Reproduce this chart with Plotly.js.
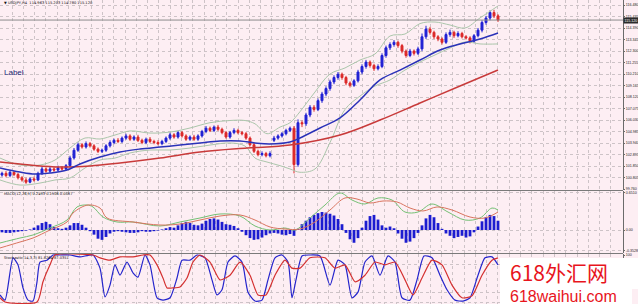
<!DOCTYPE html>
<html><head><meta charset="utf-8">
<script src="https://cdn.plot.ly/plotly-3.0.1.min.js"></script>
<style>html,body{margin:0;padding:0;background:#fdeef3;} #chart{width:638px;height:304px;}</style>
</head><body><div id="chart"></div>
<script>
// ---- price data (USDJPY H4), one value per bar ----
const openP = [101.05,101.20,101.00,101.30,101.10,100.80,100.60,100.40,100.70,100.60,
101.20,101.60,101.40,101.60,101.50,101.70,101.60,101.90,102.60,103.30,
103.80,103.60,103.90,103.70,103.40,103.20,103.30,103.70,104.00,104.20,
104.10,104.40,104.60,104.30,104.50,104.20,104.00,104.30,104.10,104.00,
103.90,104.10,104.40,104.70,104.50,104.90,104.60,104.30,104.50,104.30,
104.60,105.00,105.30,105.10,105.40,105.20,104.90,104.50,104.90,105.10,
104.90,104.80,104.40,103.80,103.20,102.90,103.00,102.80,104.20,104.40,
104.60,104.80,105.10,105.30,102.00,105.80,105.70,106.50,107.20,107.00,
107.80,108.40,108.90,109.50,109.90,110.20,109.90,109.40,109.20,109.60,
110.40,110.90,111.30,111.00,110.70,110.90,111.90,112.60,112.90,113.10,
112.80,112.30,111.90,112.30,112.10,112.50,113.60,114.30,114.00,113.60,
113.40,113.10,113.80,114.00,113.70,113.90,113.60,113.50,113.20,113.70,
114.20,114.90,115.30,115.80,115.50];
const highP = [101.35,101.40,101.45,101.40,101.25,100.95,100.80,100.85,100.90,101.35,
101.80,101.75,101.80,101.75,101.90,101.85,102.05,102.80,103.50,104.00,
103.95,104.10,104.05,103.85,103.55,103.45,103.85,104.20,104.35,104.40,
104.55,104.80,104.75,104.65,104.70,104.35,104.45,104.50,104.25,104.20,
104.25,104.55,104.90,104.85,105.05,105.05,104.75,104.65,104.70,104.75,
105.15,105.50,105.45,105.55,105.60,105.35,105.05,105.05,105.30,105.25,
105.05,104.95,104.55,103.95,103.35,103.20,103.15,103.20,104.60,104.75,
104.95,105.25,105.45,105.50,106.10,106.00,106.70,107.40,107.40,108.00,
108.60,109.10,109.70,110.10,110.40,110.35,110.05,109.55,109.75,110.60,
111.10,111.50,111.45,111.15,111.10,112.10,112.80,113.10,113.30,113.25,
112.95,112.45,112.50,112.45,112.70,113.90,114.60,114.50,114.15,113.75,
113.55,114.00,114.25,114.15,114.10,114.05,113.75,113.65,113.85,114.40,
115.10,115.50,116.00,116.05,115.65];
const lowP = [100.90,100.85,100.85,100.95,100.65,100.45,100.25,100.30,100.45,100.50,
101.05,101.25,101.25,101.35,101.35,101.45,101.45,101.75,102.45,103.15,
103.45,103.45,103.55,103.25,103.05,103.05,103.15,103.55,103.85,103.95,
103.95,104.25,104.15,104.15,104.05,103.85,103.85,103.95,103.85,103.75,
103.75,103.95,104.25,104.35,104.35,104.45,104.15,104.15,104.15,104.15,
104.45,104.85,104.95,104.95,105.05,104.75,104.35,104.35,104.75,104.75,
104.65,104.25,103.65,103.05,102.75,102.75,102.65,102.65,104.05,104.25,
104.45,104.65,104.95,101.20,101.80,105.40,105.50,106.30,106.80,106.85,
107.60,108.20,108.70,109.30,109.70,109.70,109.20,109.00,109.05,109.45,
110.20,110.70,110.80,110.50,110.55,110.75,111.70,112.40,112.70,112.60,
112.10,111.70,111.75,111.90,111.95,112.30,113.40,113.80,113.40,113.20,
112.90,112.95,113.60,113.50,113.55,113.45,113.35,113.00,113.05,113.55,
114.00,114.70,115.10,115.30,114.95];
const closeP = [101.20,101.00,101.30,101.10,100.80,100.60,100.40,100.70,100.60,101.20,
101.60,101.40,101.60,101.50,101.70,101.60,101.90,102.60,103.30,103.80,
103.60,103.90,103.70,103.40,103.20,103.30,103.70,104.00,104.20,104.10,
104.40,104.60,104.30,104.50,104.20,104.00,104.30,104.10,104.00,103.90,
104.10,104.40,104.70,104.50,104.90,104.60,104.30,104.50,104.30,104.60,
105.00,105.30,105.10,105.40,105.20,104.90,104.50,104.90,105.10,104.90,
104.80,104.40,103.80,103.20,102.90,103.00,102.80,103.00,104.40,104.60,
104.80,105.10,105.30,102.00,105.80,105.70,106.50,107.20,107.00,107.80,
108.40,108.90,109.50,109.90,110.20,109.90,109.40,109.20,109.60,110.40,
110.90,111.30,111.00,110.70,110.90,111.90,112.60,112.90,113.10,112.80,
112.30,111.90,112.30,112.10,112.50,113.60,114.30,114.00,113.60,113.40,
113.10,113.80,114.00,113.70,113.90,113.60,113.50,113.20,113.70,114.20,
114.90,115.30,115.80,115.50,115.12];
const lastPrice = 115.12;

// ---- moving averages & bands (bar position, price) ----
const maFastX = [-0.5,4.5,8.25,12,16.25,19.5,24.5,29.5,34.5,39.5,44.5,49.5,54.5,59.5,63.25,67,72,74.5,79.5,84.5,89.5,94.5,99.5,104.5,109.5,114.5,119.5,124];
const maFastY = [101.69,101.32,101.14,101.23,101.50,102.05,102.68,103.14,103.41,103.59,103.77,103.96,104.14,104.14,103.96,103.87,104.05,104.41,105.32,106.23,107.86,109.68,110.58,111.49,112.40,112.94,113.40,113.94];
const maSlowX = [-0.5,7,14.5,22,29.5,39.5,49.5,61.25,72,84.5,94.5,104.5,114.5,124];
const maSlowY = [102.23,101.96,101.78,101.87,102.14,102.59,103.14,103.50,103.77,104.68,106.04,107.59,109.13,110.58];
const bandX = [-0.5,4.5,9.5,13.25,17,20.75,24.5,28.25,32,37,42,47,52,57,60.75,63.25,66.25,69.5,72,74.5,78.25,82,85.75,89.5,93.25,97,100.75,104.5,108.25,112,115.75,119.5,124];
const bandUpper = [102.59,101.96,101.96,102.41,103.50,104.41,104.32,104.68,105.05,104.86,104.95,105.32,105.80,106.00,106.00,105.70,104.80,105.40,105.80,106.80,108.59,110.22,110.77,111.49,112.04,113.67,113.85,114.80,114.94,114.67,114.40,115.31,116.40];
const bandLower = [100.60,100.14,100.32,100.60,100.78,101.69,102.41,102.59,103.05,103.32,103.32,103.50,103.77,103.96,103.68,102.59,102.23,101.90,101.60,101.30,101.60,104.00,107.00,108.22,109.13,109.68,110.58,111.31,111.95,112.58,113.13,112.95,112.95];

// ---- MACD ----
const macdHist = [-0.04,-0.05,-0.05,-0.04,-0.03,-0.02,-0.01,0.01,0.04,0.08,
0.12,0.14,0.10,0.05,0.03,0.02,0.04,0.08,0.12,0.12,
0.09,0.04,-0.02,-0.08,-0.15,-0.17,-0.12,-0.06,-0.03,-0.02,
-0.03,-0.04,-0.05,-0.05,-0.04,-0.02,-0.03,-0.03,-0.02,-0.01,
0.01,0.03,0.05,0.04,0.08,0.12,0.14,0.12,0.09,0.08,
0.11,0.16,0.19,0.20,0.18,0.14,0.10,0.09,0.07,0.03,
-0.03,-0.09,-0.14,-0.17,-0.16,-0.13,-0.09,-0.06,-0.05,-0.06,
-0.08,-0.09,-0.07,-0.10,0.02,0.10,0.16,0.22,0.26,0.29,
0.31,0.30,0.28,0.25,0.19,0.10,-0.05,-0.16,-0.22,-0.14,
0.04,0.16,0.24,0.26,0.18,0.08,0.04,0.06,0.03,-0.06,
-0.15,-0.22,-0.20,-0.14,-0.05,0.08,0.20,0.26,0.22,0.12,
0.02,-0.06,-0.10,-0.14,-0.12,-0.10,-0.13,-0.11,-0.04,0.06,
0.15,0.22,0.26,0.24,0.16];
const macdMainX = [-0.5,4.5,7.75,12,16.25,18.75,21.25,22.75,25.25,28.75,32.75,39.5,44.5,49.5,54.5,59.5,63.25,67,70.75,73.25,77,80.75,84.5,87.5,90.75,94,97.5,100.75,104,107.5,111.5,115.75,119.5,122.5,124];
const macdMainY = [-0.224,-0.138,-0.086,0.034,0.172,0.397,0.431,0.397,0.224,0.138,0.138,0.069,0.138,0.207,0.276,0.241,0.069,0,0.034,0,0.207,0.431,0.638,0.517,0.448,0.552,0.517,0.310,0.310,0.448,0.310,0.172,0.207,0.379,0.345];
const macdSigX = [-0.5,4.5,7.75,12,16.25,17.75,21.5,24.5,26.25,32.75,39.5,44.5,49.5,54.5,59.5,63.25,67,70.75,74.5,78.25,82,85.75,88.75,92,95.25,98.75,102,105.25,108.75,112.5,117,120.75,124];
const macdSigY = [-0.310,-0.207,-0.138,0,0.138,0.293,0.431,0.379,0.207,0.138,0.086,0.103,0.172,0.241,0.259,0.172,0.052,0.017,0.017,0.138,0.345,0.552,0.534,0.466,0.500,0.483,0.379,0.328,0.397,0.345,0.224,0.207,0.310];

// ---- Stochastic ----
const stochKX = [-0.5,0.75,2.75,4,5.25,6.5,7.75,8.75,9.5,11.25,12.75,14.5,17,19.5,22.75,24.5,25.75,27,28.25,29.5,31.25,32.75,34,35.75,37,38.75,40.25,42,43.75,45,47,48.75,50.75,52.5,53.75,55,56.5,58.25,60,61.5,63.25,65,66.5,68.25,70,71.5,72.5,73.5,75,77,79.5,82,84,85.75,87.5,89,90.75,92.5,94.5,96.5,98.25,100,102,103.75,105.5,107.5,109.5,111.25,113.25,115.25,117,119,120.75,122.5,124];
const stochK = [15,4,94,79,30,4,2,43,85,89,100,100,100,96,100,72,11,36,79,57,85,62,53,100,79,9,4,9,51,89,89,100,94,47,15,26,85,98,85,21,2,4,47,94,100,85,9,47,98,100,98,36,89,79,9,21,85,98,57,98,85,9,4,47,98,94,57,26,4,2,9,57,94,96,79];
const stochDX = [-0.5,0.75,8.75,10.25,12,13.25,22.75,24.5,27,29.5,32.75,35.25,37,38.75,40.25,41.25,42.75,44.5,46.25,47.75,49.5,52,54.5,57,59.5,62,64,66,68.25,70.75,72.5,74.5,77,80.75,83.25,85.75,88.25,90.75,93.25,95.75,98.25,100.75,102.75,105,107.5,110,112.5,115,117.5,120,122.5,124];
const stochD = [9,0,0,43,79,100,100,94,89,96,96,100,100,79,51,30,30,32,51,85,100,85,47,57,85,57,15,15,57,89,72,72,94,94,72,79,43,57,85,79,85,47,15,51,89,79,36,9,13,57,89,94];

// ---- axis labels ----
const priceTicks = [116.480,115.435,114.390,113.345,112.300,111.255,110.210,109.165,108.120,107.075,106.030,104.985,103.940,102.895,101.850,100.805,99.760];
const macdTicks = [0.651,0,-0.3528];
const macdTickText = ['0.6510','0.00','-0.3528'];
const stochTicks = [100,80,20,0];
const stochTickText = ['100','','','0'];

const barIdx = closeP.map((_, i) => i);

const W = 638, H = 304, PW = 623;
const px = v => v / PW;          // pixel -> paper x
const py = v => 1 - v / H;       // pixel -> paper y

const bg = '#fdeef3';
const grid = '#cdc3c7';
const tinyFont = 'Liberation Sans Narrow, Liberation Sans, sans-serif';
const traces = [
  {type:'scatter', mode:'lines', x:bandX, y:bandUpper, line:{color:'#abc6ab', width:1, shape:'spline'}, xaxis:'x', yaxis:'y'},
  {type:'scatter', mode:'lines', x:bandX, y:bandLower, line:{color:'#abc6ab', width:1, shape:'spline'}, xaxis:'x', yaxis:'y'},
  {type:'candlestick', x:barIdx, open:openP, high:highP, low:lowP, close:closeP, xaxis:'x', yaxis:'y',
   increasing:{line:{color:'#2222d4', width:1}, fillcolor:'#2222d4'},
   decreasing:{line:{color:'#dc2a2a', width:1}, fillcolor:'#dc2a2a'}, whiskerwidth:0},
  {type:'scatter', mode:'lines', x:maSlowX, y:maSlowY, line:{color:'#c83a3a', width:1.5, shape:'spline'}, xaxis:'x', yaxis:'y'},
  {type:'scatter', mode:'lines', x:maFastX, y:maFastY, line:{color:'#2a32b8', width:1.5, shape:'spline'}, xaxis:'x', yaxis:'y'},
  {type:'bar', x:barIdx, y:macdHist, width:0.7, marker:{color:'#1c1cd0', line:{width:0}}, xaxis:'x', yaxis:'y2'},
  {type:'scatter', mode:'lines', x:macdMainX, y:macdMainY, line:{color:'#74c074', width:1, shape:'spline'}, xaxis:'x', yaxis:'y2'},
  {type:'scatter', mode:'lines', x:macdSigX, y:macdSigY, line:{color:'#d9745f', width:1, shape:'spline'}, xaxis:'x', yaxis:'y2'},
  {type:'scatter', mode:'lines', x:stochKX, y:stochK, line:{color:'#2424cc', width:1.2, shape:'spline', smoothing:0.6}, xaxis:'x', yaxis:'y3'},
  {type:'scatter', mode:'lines', x:stochDX, y:stochD, line:{color:'#d43030', width:1.2, shape:'spline', smoothing:0.6}, xaxis:'x', yaxis:'y3'}
];

const yCommon = {side:'right', showline:true, linecolor:'#6b6b6b', linewidth:1, ticks:'outside', ticklen:1, tickcolor:'#6b6b6b',
  tickfont:{family:tinyFont, size:3.6, color:'#222'}, showgrid:true, gridcolor:grid, griddash:'dot', gridwidth:1, zeroline:false, fixedrange:true};

const layout = {
  width:W, height:H, margin:{l:0, r:W-PW, t:0, b:0},
  paper_bgcolor:bg, plot_bgcolor:bg, showlegend:false, hovermode:false,
  xaxis:{domain:[0,1], range:[-0.5,155.25], anchor:'y3', showticklabels:false, ticks:'', showgrid:true, gridcolor:grid, griddash:'dot', gridwidth:1,
    tick0:2.5, dtick:2.825, zeroline:false, rangeslider:{visible:false}, showline:false},
  yaxis:Object.assign({}, yCommon, {domain:[py(190),1], range:[99.69,116.94], tickvals:priceTicks, ticktext:priceTicks.map(v=>v.toFixed(3))}),
  yaxis2:Object.assign({}, yCommon, {domain:[py(253),py(191)], range:[-0.3966,0.6724], tickvals:macdTicks, ticktext:macdTickText}),
  yaxis3:Object.assign({}, yCommon, {domain:[0,py(254)], range:[-4.26,102.13], tickvals:stochTicks, ticktext:stochTickText}),
  shapes:[
    {type:'line', xref:'paper', yref:'paper', x0:0, x1:1, y0:py(190.5), y1:py(190.5), line:{color:'#7a7a7a', width:1}},
    {type:'line', xref:'paper', yref:'paper', x0:0, x1:1, y0:py(253.5), y1:py(253.5), line:{color:'#7a7a7a', width:1}},
    {type:'line', xref:'paper', yref:'y', x0:0, x1:1, y0:lastPrice, y1:lastPrice, line:{color:'#8c8c8c', width:1}},
    {type:'rect', xref:'paper', yref:'paper', x0:px(500), x1:px(638), y0:py(289), y1:py(258), fillcolor:'#ffffff', line:{width:0}},
    {type:'rect', xref:'paper', yref:'paper', x0:px(500), x1:px(632), y0:0, y1:py(289), fillcolor:'#ffffff', line:{width:0}}
  ],
  annotations:[
    {xref:'paper', yref:'paper', x:px(2), y:py(3), xanchor:'left', yanchor:'middle', showarrow:false,
     text:'\u25BC USDJPY,H4  114.963 115.203 114.780 115.120', font:{family:'DejaVu Sans', size:3.6, color:'#111'}},
    {xref:'paper', yref:'paper', x:px(2), y:py(73), xanchor:'left', yanchor:'middle', showarrow:false,
     text:'Label', font:{family:'Liberation Sans', size:8, color:'#1e2a78'}},
    {xref:'paper', yref:'paper', x:px(2), y:py(194), xanchor:'left', yanchor:'middle', showarrow:false,
     text:'MACD(12,26,9) 0.2493 0.1906 0.0587', font:{family:'DejaVu Sans', size:3.6, color:'#111'}},
    {xref:'paper', yref:'paper', x:px(2), y:py(257.5), xanchor:'left', yanchor:'middle', showarrow:false,
     text:'Stochastic(14,3,3) 81.8264 87.0351', font:{family:'DejaVu Sans', size:3.6, color:'#111'}},
    {xref:'paper', yref:'y', x:1, y:lastPrice, xanchor:'left', yanchor:'middle', showarrow:false, bgcolor:'#2b2b2b', borderpad:0.5,
     text:lastPrice.toFixed(3), font:{family:tinyFont, size:3.6, color:'#ffffff'}},
    {xref:'paper', yref:'paper', x:px(508), y:py(272), xanchor:'left', yanchor:'middle', showarrow:false,
     text:'618外汇网', font:{family:'Noto Sans CJK SC', size:21, color:'#e8141c'}},
    {xref:'paper', yref:'paper', x:px(508), y:py(296), xanchor:'left', yanchor:'middle', showarrow:false,
     text:'618waihui.com', font:{family:'Liberation Sans', size:16, color:'#e8141c'}}
  ]
};

Plotly.newPlot('chart', traces, layout, {staticPlot:true, displayModeBar:false});
</script>
</body></html>
